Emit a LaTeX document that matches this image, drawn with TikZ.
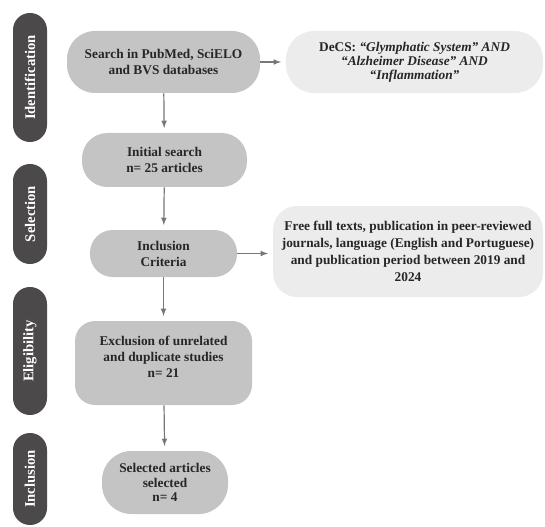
\documentclass[tikz,border=0pt]{standalone}
\usepackage{fontspec}
\setmainfont{Liberation Serif}
\definecolor{bardark}{HTML}{4B4949}
\definecolor{boxgray}{HTML}{C4C4C4}
\definecolor{notegray}{HTML}{ECECEC}
\definecolor{txtdark}{HTML}{262626}
\definecolor{arrowgray}{HTML}{777777}
\tikzset{
  stage/.style={fill=bardark, text=white, font=\fontsize{11}{13}\selectfont\bfseries,
    rotate=90, minimum height=25.5pt, rounded corners=12.7pt, inner sep=0pt},
  mainbox/.style={fill=boxgray, text=txtdark, font=\fontsize{10}{12}\selectfont\bfseries,
    align=center, inner sep=0pt},
  notebox/.style={fill=notegray, text=txtdark, align=center, inner sep=0pt},
  link/.style={draw=arrowgray, line width=0.9pt, -latex, shorten >=3.5pt}
}
\begin{document}
\begin{tikzpicture}[x=0.75pt, y=-0.75pt]
		\useasboundingbox (0,0) rectangle (545,527);
		% stages on the left
		\node[stage, minimum width=96.75pt] (ident) at (30,77.5) {Identification};
		\node[stage, minimum width=75pt] (selec) at (30,214) {Selection};
		\node[stage, minimum width=96pt] (elig) at (30,351) {Eligibility};
		\node[stage, minimum width=69pt] (incl) at (30,479) {Inclusion};
		% flow boxes
		\node[mainbox, minimum width=144.75pt, minimum height=46.5pt, rounded corners=21pt] (search) at (163.5,62)
			{Search in PubMed, SciELO\\and BVS databases};
		\node[notebox, font=\fontsize{10}{10.5}\selectfont\bfseries, minimum width=192.75pt, minimum height=46.5pt, rounded corners=21pt] (decs) at (414.5,62)
			{DeCS: \textit{“Glymphatic System” AND}\\\textit{“Alzheimer Disease” AND}\\\textit{“Inflammation”}};
		\node[mainbox, minimum width=123.75pt, minimum height=40.5pt, rounded corners=19pt] (initial) at (164.5,160)
			{Initial search\\n= 25 articles};
		\node[mainbox, minimum width=110.25pt, minimum height=35.25pt, rounded corners=17pt] (criteria) at (163.5,253.5)
			{Inclusion\\Criteria};
		\node[notebox, font=\fontsize{10}{12.75}\selectfont\bfseries, minimum width=202.5pt, minimum height=68.25pt, rounded corners=18pt] (free) at (408,251.5)
			{Free full texts, publication in peer-reviewed\\journals, language (English and Portuguese)\\and publication period between 2019 and\\2024};
		\node[mainbox, minimum width=132.75pt, minimum height=63pt, rounded corners=15pt] (exclusion) at (163.5,363)
			{Exclusion of unrelated\\and duplicate studies\\n= 21\\[-2pt]};
		\node[mainbox, font=\fontsize{10}{11}\selectfont\bfseries, minimum width=94.5pt, minimum height=47.25pt, rounded corners=22pt] (selected) at (165,482.5)
			{Selected articles\\selected\\n= 4};
		% connectors
		\draw[link] (search) -- (initial);
		\draw[link] (search) -- (decs);
		\draw[link] (initial) -- (criteria);
		\draw[link] (criteria.east) -- (criteria.east -| free.west);
		\draw[link] (criteria) -- (exclusion);
		\draw[link] (exclusion) -- (selected);
	\end{tikzpicture}
\end{document}
